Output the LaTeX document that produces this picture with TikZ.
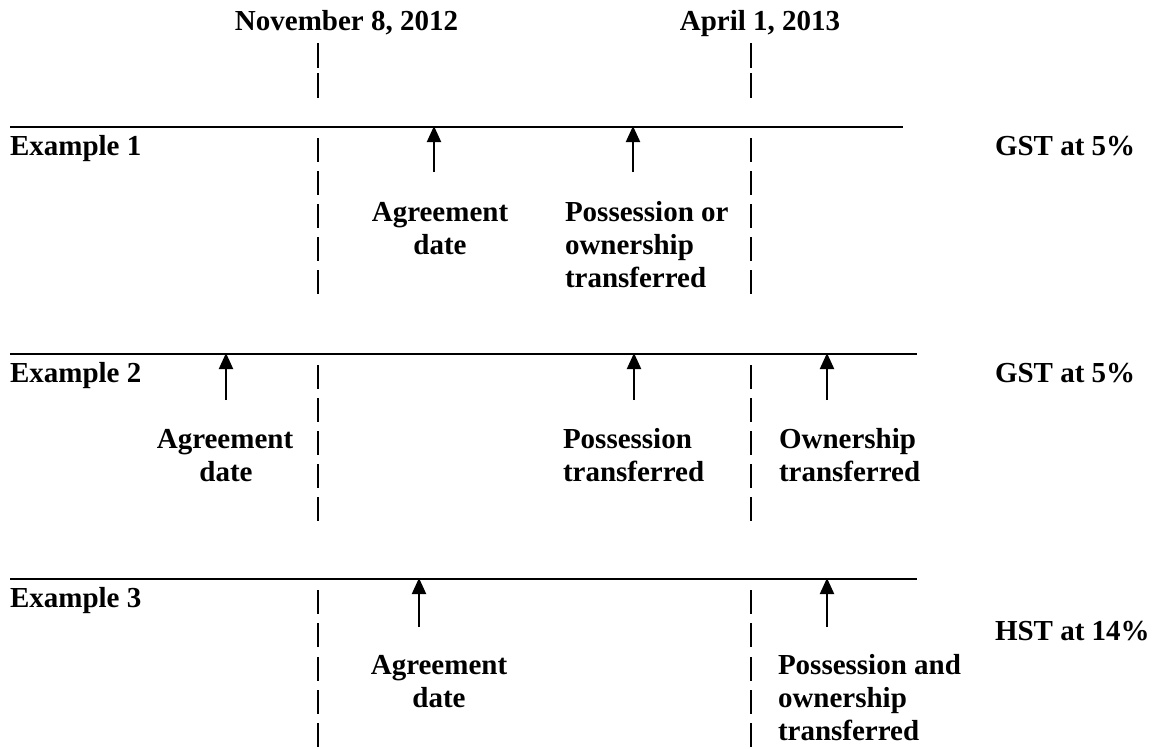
\documentclass[tikz,border=0pt]{standalone}
\usepackage{fontspec}
\setmainfont{Liberation Serif}
\usetikzlibrary{arrows.meta}
\begin{document}
\begin{tikzpicture}[x=1pt,y=-1pt,
  lbl/.style={font=\fontsize{29}{33}\selectfont\bfseries, inner sep=0pt, outer sep=0pt},
  lw/.style={lbl, anchor=base west},
  lc/.style={lbl, anchor=base},
  tline/.style={line width=2pt},
  sepbar/.style={line width=1.5pt},
  arr/.style={line width=2pt, -{Triangle[width=14pt,length=16pt]}}]
\useasboundingbox (0,0) rectangle (1152,748);

% headers
\node[lc] (hnov) at (346.5,30) {November 8, 2012};
\node[lc] (hapr) at (760,30) {April 1, 2013};
\foreach \b in {61,91} {
  \draw[sepbar] (318,{\b-18}) -- (318,{\b+7});
  \draw[sepbar] (751,{\b-18}) -- (751,{\b+7});
}

% ---------- Example 1 ----------
\coordinate (l1a) at (10,127);
\coordinate (l1b) at (903,127);
\draw[tline] (l1a) -- (l1b);
\foreach \b in {155,188,221,254,287} {
  \draw[sepbar] (318,{\b-17}) -- (318,{\b+7});
  \draw[sepbar] (751,{\b-17}) -- (751,{\b+7});
}
\node[lw] (ex1) at (10,155) {Example 1};
\node[lw] (gst1) at (995,155) {GST at 5\%};
\coordinate (a11b) at (434,172); \coordinate (a11t) at (434,126);
\coordinate (a12b) at (633,172); \coordinate (a12t) at (633,126);
\draw[arr] (a11b) -- (a11t);
\draw[arr] (a12b) -- (a12t);
\node[lc] (e1ag1) at (440,221) {Agreement};
\node[lc] (e1ag2) at (440,254) {date};
\node[lw] (e1po1) at (565,221) {Possession or};
\node[lw] (e1po2) at (565,254) {ownership};
\node[lw] (e1po3) at (565,287) {transferred};

% ---------- Example 2 ----------
\coordinate (l2a) at (10,354);
\coordinate (l2b) at (917,354);
\draw[tline] (l2a) -- (l2b);
\foreach \b in {382,415,448,481,514} {
  \draw[sepbar] (318,{\b-17}) -- (318,{\b+7});
  \draw[sepbar] (751,{\b-17}) -- (751,{\b+7});
}
\node[lw] (ex2) at (10,382) {Example 2};
\node[lw] (gst2) at (995,382) {GST at 5\%};
\coordinate (a21b) at (226,400); \coordinate (a21t) at (226,353);
\coordinate (a22b) at (634,400); \coordinate (a22t) at (634,353);
\coordinate (a23b) at (827,400); \coordinate (a23t) at (827,353);
\draw[arr] (a21b) -- (a21t);
\draw[arr] (a22b) -- (a22t);
\draw[arr] (a23b) -- (a23t);
\node[lc] (e2ag1) at (225,448) {Agreement};
\node[lc] (e2ag2) at (226,481) {date};
\node[lw] (e2po1) at (563,448) {Possession};
\node[lw] (e2po2) at (563,481) {transferred};
\node[lw] (e2ow1) at (779,448) {Ownership};
\node[lw] (e2ow2) at (779,481) {transferred};

% ---------- Example 3 ----------
\coordinate (l3a) at (10,579);
\coordinate (l3b) at (917,579);
\draw[tline] (l3a) -- (l3b);
\foreach \b in {607,640,674,707,740} {
  \draw[sepbar] (318,{\b-17}) -- (318,{\b+7});
  \draw[sepbar] (751,{\b-17}) -- (751,{\b+7});
}
\node[lw] (ex3) at (10,607) {Example 3};
\node[lw] (hst3) at (995,640) {HST at 14\%};
\coordinate (a31b) at (419,627); \coordinate (a31t) at (419,578);
\coordinate (a32b) at (827,627); \coordinate (a32t) at (827,578);
\draw[arr] (a31b) -- (a31t);
\draw[arr] (a32b) -- (a32t);
\node[lc] (e3ag1) at (439,674) {Agreement};
\node[lc] (e3ag2) at (439,707) {date};
\node[lw] (e3po1) at (778,674) {Possession and};
\node[lw] (e3po2) at (778,707) {ownership};
\node[lw] (e3po3) at (778,740) {transferred};
\end{tikzpicture}
\end{document}
